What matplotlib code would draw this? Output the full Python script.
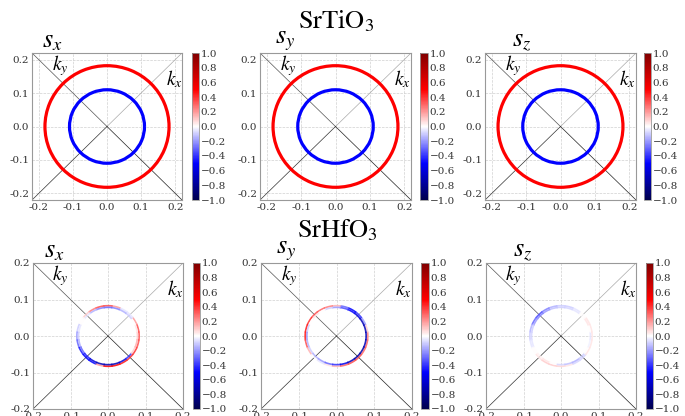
import numpy as np
import matplotlib
matplotlib.use("Agg")
import matplotlib.pyplot as plt
from matplotlib.patches import Arc
from matplotlib.colors import Normalize

# ── data ─────────────────────────────────────────────────────
components = ["x", "y", "z"]
materials = ["SrTiO$_3$", "SrHfO$_3$"]
axis_ticks = [-0.2, -0.1, 0.0, 0.1, 0.2]
cbar_ticks = [-1.0, -0.8, -0.6, -0.4, -0.2, 0.0, 0.2, 0.4, 0.6, 0.8, 1.0]

# SrTiO3: two uniformly coloured Fermi contours (outer, inner)
sto_lim = 0.22
sto_radii = [0.182, 0.110]
sto_spin = {"x": [0.5, -0.5], "y": [0.5, -0.5], "z": [0.5, -0.5]}

# SrHfO3: two nearly degenerate contours, spin read per 15 deg sector
shfo_lim = 0.2
shfo_radii = [0.083, 0.0785]
sector_deg = [0, 15, 30, 45, 60, 75, 90, 105, 120, 135, 150, 165,
              180, 195, 210, 225, 240, 255, 270, 285, 300, 315, 330, 345]
shfo_outer = {
    "x": [0.35, 0.35, 0.2, -0.05, -0.05, 0.2, 0.35, 0.35, 0.25, 0.1, 0.0, -0.1,
          -0.2, -0.3, -0.45, -0.5, -0.5, 0.2, 0.5, 0.5, 0.45, 0.4, 0.4, 0.35],
    "y": [0.25, 0.1, -0.2, -0.4, -0.5, -0.3, 0.15, 0.25, 0.3, 0.35, 0.4, 0.45,
          0.45, 0.35, 0.15, 0.0, -0.05, 0.05, 0.15, 0.3, 0.35, 0.35, 0.3, 0.3],
    "z": [0.05, 0.05, 0.05, 0.0, -0.05, -0.1, -0.1, -0.15, -0.25, -0.35, -0.3, -0.15,
          -0.1, -0.05, 0.0, 0.05, 0.1, 0.1, 0.08, 0.05, -0.08, -0.08, 0.05, 0.05],
}
shfo_inner = {
    "x": [0.1, 0.05, 0.0, -0.1, -0.15, -0.25, -0.3, -0.25, -0.15, -0.05, 0.0, -0.05,
          -0.1, -0.15, -0.3, -0.45, -0.6, -0.7, -0.7, -0.7, -0.6, -0.4, 0.1, 0.15],
    "y": [-0.7, -0.7, -0.7, -0.6, -0.5, -0.35, -0.2, -0.1, 0.0, 0.05, 0.0, -0.1,
          -0.2, -0.15, -0.1, -0.15, -0.2, -0.3, -0.4, -0.55, -0.7, -0.75, -0.75, -0.7],
    "z": [-0.05, 0.0, 0.05, 0.0, -0.05, -0.08, -0.1, -0.12, -0.2, -0.25, -0.2, -0.1,
          -0.08, -0.05, 0.0, 0.03, 0.05, 0.0, -0.08, -0.12, -0.15, -0.1, 0.0, -0.03],
}

# ── style ────────────────────────────────────────────────────
plt.rcParams["font.family"] = "DejaVu Serif"
plt.rcParams["mathtext.fontset"] = "stix"
cmap = plt.get_cmap("seismic")
norm = Normalize(-1, 1)

W, H = 685, 416
fig = plt.figure(figsize=(W / 100, H / 100), dpi=100)


def px_axes(x, y, w, h):
    return fig.add_axes([x / W, 1 - (y + h) / H, w / W, h / H])


# pixel boxes of the panels and colourbars
panel_boxes = [
    [(32, 53, 150, 147), (260, 53, 151, 147), (485, 53, 151, 147)],
    [(33, 263, 150, 146), (261, 263, 151, 146), (486, 263, 150, 146)],
]
cbar_boxes = [
    [(192, 53, 7, 147), (420, 53, 8, 147), (644, 53, 7, 147)],
    [(193, 263, 7, 146), (421, 263, 8, 146), (646, 263, 7, 146)],
]
s_label_x = [0.07, 0.10, 0.18]


def style_axes(ax, lim):
    ax.set_xlim(-lim, lim)
    ax.set_ylim(-lim, lim)
    ax.set_xticks(axis_ticks)
    ax.set_yticks(axis_ticks)
    ax.xaxis.set_major_formatter(plt.FormatStrFormatter("%.1f"))
    ax.yaxis.set_major_formatter(plt.FormatStrFormatter("%.1f"))
    ax.tick_params(length=0, pad=2, labelsize=7.5, colors="#333333")
    ax.grid(True, ls="--", lw=0.5, color="#d0d0d0")
    ax.set_axisbelow(True)
    for sp in ax.spines.values():
        sp.set_color("#999999")
    # kx / ky axes along the diagonals
    ax.plot([0, lim], [0, lim], color="#aaaaaa", lw=0.5, zorder=1)
    ax.plot([0, -lim], [0, -lim], color="#333333", lw=0.5, zorder=1)
    ax.plot([0, -lim], [0, lim], color="#555555", lw=0.5, zorder=1)
    ax.plot([0, lim], [0, -lim], color="#222222", lw=0.5, zorder=1)
    ax.text(0.13, 0.915, "$k_y$", transform=ax.transAxes, fontsize=14,
            ha="left", va="center")
    ax.text(0.89, 0.82, "$k_x$", transform=ax.transAxes, fontsize=14,
            ha="left", va="center")


def add_cbar(box):
    cax = px_axes(*box)
    sm = plt.cm.ScalarMappable(norm=norm, cmap=cmap)
    cb = fig.colorbar(sm, cax=cax, ticks=cbar_ticks)
    cb.ax.tick_params(length=0, pad=1, labelsize=7.5, colors="#333333")
    cb.outline.set_edgecolor("#999999")
    cb.outline.set_linewidth(0.6)


for row in range(2):
    for col, comp in enumerate(components):
        ax = px_axes(*panel_boxes[row][col])
        if row == 0:
            style_axes(ax, sto_lim)
            for r, v in zip(sto_radii, sto_spin[comp]):
                ax.add_patch(Arc((0, 0), 2 * r, 2 * r, theta1=0, theta2=360,
                                 color=cmap(norm(v)), lw=2.3, zorder=3))
        else:
            style_axes(ax, shfo_lim)
            half = (sector_deg[1] - sector_deg[0]) / 2 + 1
            for r, vals in zip(shfo_radii, [shfo_outer[comp], shfo_inner[comp]]):
                for a, v in zip(sector_deg, vals):
                    ax.add_patch(Arc((0, 0), 2 * r, 2 * r, theta1=a - half,
                                     theta2=a + half, color=cmap(norm(v)),
                                     lw=1.2, alpha=0.85, zorder=3))
        ax.text(s_label_x[col], 1.0, "$s_%s$" % comp, transform=ax.transAxes,
                fontsize=19, ha="left", va="bottom")
        add_cbar(cbar_boxes[row][col])

fig.text(336 / W, 1 - 28 / H, materials[0], fontfamily="STIXGeneral",
         fontsize=19, ha="center", va="baseline")
fig.text(337 / W, 1 - 237 / H, materials[1], fontfamily="STIXGeneral",
         fontsize=19, ha="center", va="baseline")

fig.savefig("out.png", dpi=100)
